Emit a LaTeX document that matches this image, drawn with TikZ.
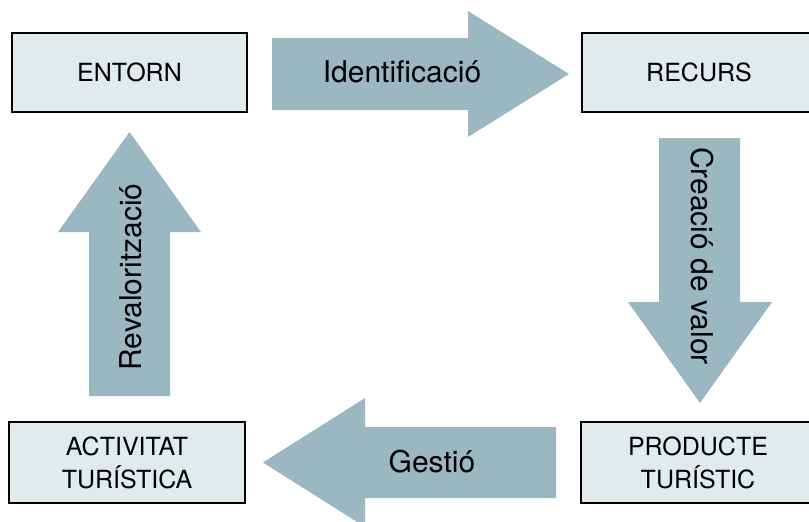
\documentclass[tikz,border=0pt]{standalone}
\usepackage{fontspec}
\setmainfont{TeX Gyre Heros}
\definecolor{boxfill}{RGB}{225,234,237}
\definecolor{arrowfill}{RGB}{155,183,194}
\begin{document}
\begin{tikzpicture}[x=1pt,y=-1pt,
  stagebox/.style={draw=black,line width=2.4pt,fill=boxfill,inner sep=0pt,
    font=\fontsize{25}{33}\selectfont,align=center},
  flowarrow/.style={fill=arrowfill,draw=none},
  flowlabel/.style={font=\fontsize{30}{36}\selectfont,inner sep=0pt}]
\useasboundingbox (0,0) rectangle (809,522);
\clip (0,0) rectangle (809,522);
\fill[white] (0,0) rectangle (809,522);
% boxes
\node[stagebox,minimum width=235pt,minimum height=79pt] (entorn) at (129.5,72.5) {ENTORN};
\node[stagebox,minimum width=234pt,minimum height=79pt] (recurs) at (699,72.5) {RECURS};
\node[stagebox,minimum width=236pt,minimum height=81pt] (activitat) at (127,462.5) {ACTIVITAT\\TURÍSTICA};
\node[stagebox,minimum width=234pt,minimum height=81pt] (producte) at (698,462.5) {PRODUCTE\\TURÍSTIC};
% arrows
\fill[flowarrow] (272,38) -- (468,38) -- (468,11) -- (569,74) -- (468,137) -- (468,110) -- (272,110) -- cycle;
\fill[flowarrow] (659,138) -- (740,138) -- (740,302) -- (772,302) -- (700,403) -- (628,302) -- (659,302) -- cycle;
\fill[flowarrow] (556,427) -- (365,427) -- (365,398) -- (263,462.5) -- (365,527) -- (365,498) -- (556,498) -- cycle;
\fill[flowarrow] (89,396) -- (89,232) -- (58,232) -- (129.5,132) -- (201,232) -- (170,232) -- (170,396) -- cycle;
% labels
\node[flowlabel] (identificacio) at (402,72) {Identificació};
\node[flowlabel,rotate=-90] (creacio) at (702,256) {Creació de valor};
\node[flowlabel] (gestio) at (432,462) {Gestió};
\node[flowlabel,rotate=90] (revaloritzacio) at (131,277) {Revalorització};
\end{tikzpicture}
\end{document}
